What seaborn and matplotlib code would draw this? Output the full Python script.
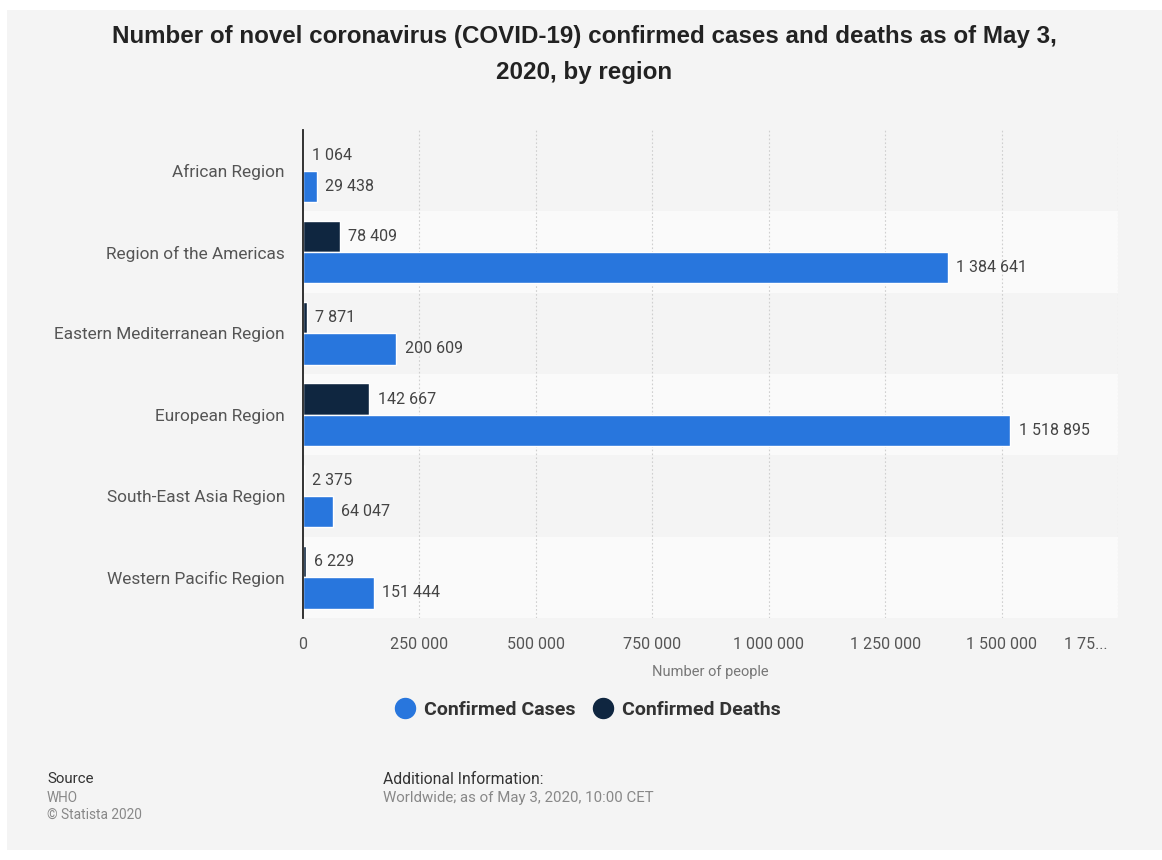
import matplotlib
matplotlib.use("Agg")
import matplotlib.pyplot as plt
import matplotlib.transforms as mtransforms
import seaborn as sns
import pandas as pd
from matplotlib.patches import Rectangle
from matplotlib.lines import Line2D

regions = ["African Region", "Region of the Americas", "Eastern Mediterranean Region",
           "European Region", "South-East Asia Region", "Western Pacific Region"]
cases = [29438, 1384641, 200609, 1518895, 64047, 151444]
deaths = [1064, 78409, 7871, 142667, 2375, 6229]
xticks = [0, 250000, 500000, 750000, 1000000, 1250000, 1500000, 1750000]
xtick_labels = ["0", "250 000", "500 000", "750 000", "1 000 000", "1 250 000", "1 500 000", "1 75..."]

df = pd.DataFrame({
    "Region": regions * 2,
    "Value": deaths + cases,
    "Type": ["Confirmed Deaths"] * len(regions) + ["Confirmed Cases"] * len(regions),
})

BLUE = "#2876dd"
NAVY = "#0f2640"
BG = "#f4f4f4"
BAND = "#fafafa"

sns.set_style("white")
plt.rcParams["font.family"] = ["Roboto", "DejaVu Sans"]

fig = plt.figure(figsize=(11.62, 8.6), dpi=100, facecolor="white")
fig.patches.append(Rectangle((7 / 1162, 10 / 860), 1 - 7 / 1162, 840 / 860,
                             transform=fig.transFigure, facecolor=BG, edgecolor="none", zorder=-10))

ax = fig.add_axes([303 / 1162, 1 - 618 / 860, (1118 - 303) / 1162, (618 - 130) / 860])
ax.set_facecolor(BG)

for i in range(len(regions)):
    if i % 2 == 1:
        ax.axhspan(i - 0.5, i + 0.5, color=BAND, zorder=0, lw=0)

sns.barplot(data=df, y="Region", x="Value", hue="Type", order=regions,
            hue_order=["Confirmed Deaths", "Confirmed Cases"],
            palette={"Confirmed Deaths": NAVY, "Confirmed Cases": BLUE},
            orient="h", width=0.77, legend=False, ax=ax, zorder=3, saturation=1)

for cont in ax.containers:
    ax.bar_label(cont, labels=[f"{v:,.0f}".replace(",", " ") for v in cont.datavalues],
                 padding=6, fontsize=11.5, color="#444444")

ax.set_xlim(0, 1750000)
ax.set_ylim(len(regions) - 0.5, -0.5)
ax.set_xticks(xticks)
ax.set_xticklabels(xtick_labels, fontsize=11.5, color="#555555")
ax.tick_params(axis="x", length=0, pad=14)
ax.tick_params(axis="y", length=0, pad=13, labelsize=12.4, labelcolor="#555555")
last = ax.get_xticklabels()[-1]
last.set_transform(last.get_transform() + mtransforms.ScaledTranslation(-32 / 100, 0, fig.dpi_scale_trans))
for t in xticks[1:]:
    ax.axvline(t, color="#cfcfcf", lw=0.8, ls=(0, (1.5, 2)), zorder=1)
for s in ["top", "right", "bottom"]:
    ax.spines[s].set_visible(False)
ax.spines["left"].set_color("#222222")
ax.spines["left"].set_linewidth(1.3)
ax.spines["left"].set_zorder(5)
ax.set_ylabel("")
ax.set_xlabel("Number of people", fontsize=10.5, color="#777777", labelpad=9)

fig.text(0.503, 1 - 37 / 860, "Number of novel coronavirus (COVID-19) confirmed cases and deaths as of May 3,",
         ha="center", va="center", fontsize=17.4, fontweight="bold", color="#222222",
         family=["Liberation Sans", "DejaVu Sans"])
fig.text(0.503, 1 - 72 / 860, "2020, by region",
         ha="center", va="center", fontsize=17.4, fontweight="bold", color="#222222",
         family=["Liberation Sans", "DejaVu Sans"])

handles = [Line2D([], [], marker="o", ls="", color=BLUE, markersize=14.4),
           Line2D([], [], marker="o", ls="", color=NAVY, markersize=14.4)]
fig.legend(handles, ["Confirmed Cases", "Confirmed Deaths"], loc="center",
           bbox_to_anchor=(588 / 1162, 1 - 710 / 860), ncol=2, frameon=False,
           prop={"weight": "bold", "size": 14}, handlelength=1.0, handletextpad=0.5,
           columnspacing=0.9, labelcolor="#333333")

fig.text(47 / 1162, 1 - 779 / 860, "Source", fontsize=10.8, color="#333333", va="center")
fig.text(47 / 1162, 1 - 798 / 860, "WHO", fontsize=9.8, color="#888888", va="center")
fig.text(47 / 1162, 1 - 815 / 860, "© Statista 2020", fontsize=9.8, color="#888888", va="center")
fig.text(383 / 1162, 1 - 779 / 860, "Additional Information:", fontsize=11.3, color="#333333", va="center")
fig.text(383 / 1162, 1 - 798 / 860, "Worldwide; as of May 3, 2020, 10:00 CET", fontsize=10.8,
         color="#888888", va="center")

fig.savefig("out.png", dpi=100, facecolor="white")
